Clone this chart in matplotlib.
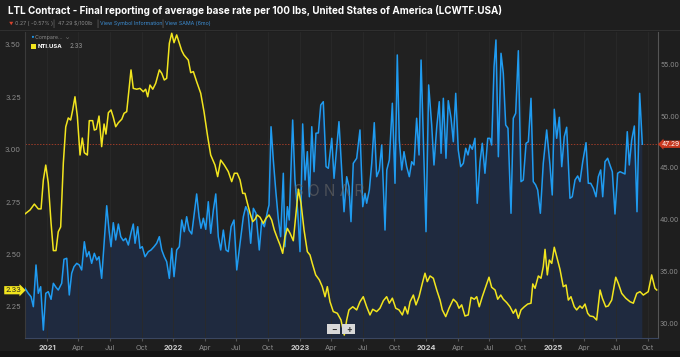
import matplotlib
matplotlib.use('Agg')
import matplotlib.pyplot as plt
import matplotlib.patches as patches
import numpy as np
import pandas as pd

plt.rcParams['font.family'] = ['Inter', 'DejaVu Sans']

# ---- data (decimal years) ----
nti_t = [2020.826, 2020.866, 2020.900, 2020.931, 2020.953, 2020.971, 2020.990, 2021.010, 2021.032, 2021.050,
         2021.071, 2021.089, 2021.108, 2021.129, 2021.148, 2021.168, 2021.187, 2021.203, 2021.221, 2021.240,
         2021.261, 2021.279, 2021.295, 2021.319, 2021.334, 2021.361, 2021.374, 2021.390, 2021.411, 2021.432,
         2021.451, 2021.466, 2021.485, 2021.506, 2021.524, 2021.543, 2021.564, 2021.591, 2021.609, 2021.630,
         2021.648, 2021.664, 2021.682, 2021.709, 2021.735, 2021.761, 2021.780, 2021.796, 2021.814, 2021.836,
         2021.859, 2021.888, 2021.907, 2021.927, 2021.946, 2021.967, 2021.986, 2022.004, 2022.025, 2022.046,
         2022.065, 2022.083, 2022.117, 2022.136, 2022.157, 2022.183, 2022.215, 2022.241, 2022.270, 2022.294,
         2022.328, 2022.349, 2022.373, 2022.402, 2022.433, 2022.460, 2022.481, 2022.504, 2022.526, 2022.547,
         2022.565, 2022.583, 2022.605, 2022.626, 2022.644, 2022.662, 2022.684, 2022.710, 2022.731, 2022.755,
         2022.776, 2022.797, 2022.821, 2022.842, 2022.863, 2022.881, 2022.900, 2022.921, 2022.947, 2022.966,
         2022.987, 2023.008, 2023.032, 2023.058, 2023.079, 2023.097, 2023.124, 2023.153, 2023.176, 2023.198,
         2023.216, 2023.237, 2023.263, 2023.295, 2023.324, 2023.350, 2023.369, 2023.387, 2023.417, 2023.448,
         2023.474, 2023.500, 2023.527, 2023.553, 2023.575, 2023.606, 2023.632, 2023.659, 2023.685, 2023.706,
         2023.730, 2023.757, 2023.783, 2023.809, 2023.830, 2023.851, 2023.870, 2023.896, 2023.917, 2023.941,
         2023.967, 2023.988, 2024.006, 2024.028, 2024.054, 2024.081, 2024.107, 2024.125, 2024.152, 2024.178,
         2024.212, 2024.239, 2024.257, 2024.278, 2024.304, 2024.330, 2024.352, 2024.378, 2024.397, 2024.417,
         2024.441, 2024.468, 2024.494, 2024.515, 2024.542, 2024.563, 2024.587, 2024.607, 2024.634, 2024.660,
         2024.686, 2024.705, 2024.726, 2024.747, 2024.773, 2024.800, 2024.826, 2024.840, 2024.858, 2024.884,
         2024.905, 2024.923, 2024.937, 2024.955, 2024.971, 2024.990, 2025.010, 2025.029, 2025.055, 2025.081,
         2025.103, 2025.121, 2025.142, 2025.168, 2025.187, 2025.213, 2025.231, 2025.253, 2025.274, 2025.292,
         2025.319, 2025.345, 2025.372, 2025.390, 2025.417, 2025.437, 2025.464, 2025.496, 2025.516, 2025.543,
         2025.575, 2025.609, 2025.635, 2025.662, 2025.688, 2025.714, 2025.753, 2025.780, 2025.806, 2025.820]
nti_v = [2.694, 2.713, 2.741, 2.718, 2.718, 2.856, 2.927, 2.842, 2.651, 2.519,
         2.519, 2.609, 2.632, 2.937, 3.109, 3.152, 3.142, 3.190, 3.253, 3.158,
         2.975, 3.056, 2.986, 2.975, 3.139, 3.139, 3.094, 3.098, 3.161, 3.015,
         3.123, 3.075, 3.177, 3.190, 3.155, 3.110, 3.129, 3.146, 3.174, 3.182,
         3.285, 3.381, 3.293, 3.289, 3.293, 3.277, 3.289, 3.253, 3.309, 3.289,
         3.317, 3.381, 3.365, 3.333, 3.341, 3.508, 3.556, 3.511, 3.548, 3.508,
         3.473, 3.452, 3.428, 3.368, 3.373, 3.325, 3.270, 3.182, 3.063, 2.975,
         2.927, 2.872, 2.951, 2.927, 2.896, 2.848, 2.888, 2.888, 2.856, 2.792,
         2.792, 2.748, 2.697, 2.657, 2.668, 2.689, 2.678, 2.649, 2.673, 2.689,
         2.665, 2.617, 2.578, 2.546, 2.506, 2.585, 2.625, 2.602, 2.566, 2.681,
         2.812, 2.745, 2.617, 2.514, 2.498, 2.458, 2.403, 2.379, 2.347, 2.299,
         2.347, 2.275, 2.228, 2.220, 2.188, 2.116, 2.188, 2.236, 2.251, 2.236,
         2.275, 2.299, 2.251, 2.212, 2.239, 2.228, 2.244, 2.280, 2.299, 2.268,
         2.292, 2.244, 2.236, 2.212, 2.251, 2.217, 2.275, 2.307, 2.260, 2.299,
         2.363, 2.411, 2.371, 2.398, 2.387, 2.331, 2.283, 2.236, 2.204, 2.244,
         2.287, 2.271, 2.244, 2.260, 2.207, 2.212, 2.296, 2.287, 2.299, 2.251,
         2.299, 2.347, 2.392, 2.344, 2.331, 2.287, 2.307, 2.287, 2.271, 2.251,
         2.220, 2.239, 2.196, 2.236, 2.251, 2.264, 2.268, 2.360, 2.339, 2.398,
         2.387, 2.442, 2.525, 2.403, 2.474, 2.458, 2.535, 2.490, 2.430, 2.347,
         2.355, 2.283, 2.299, 2.251, 2.236, 2.255, 2.244, 2.264, 2.220, 2.207,
         2.204, 2.188, 2.331, 2.292, 2.251, 2.255, 2.283, 2.392, 2.363, 2.315,
         2.292, 2.275, 2.268, 2.315, 2.323, 2.307, 2.323, 2.403, 2.339, 2.331]

lcwtf_t = [2020.826, 2020.852, 2020.874, 2020.892, 2020.913, 2020.931, 2020.950, 2020.971, 2020.990, 2021.010,
           2021.032, 2021.050, 2021.071, 2021.089, 2021.116, 2021.134, 2021.156, 2021.176, 2021.195, 2021.213,
           2021.235, 2021.255, 2021.274, 2021.295, 2021.314, 2021.332, 2021.353, 2021.374, 2021.393, 2021.411,
           2021.432, 2021.451, 2021.472, 2021.490, 2021.506, 2021.524, 2021.543, 2021.564, 2021.583, 2021.603,
           2021.622, 2021.643, 2021.664, 2021.682, 2021.696, 2021.717, 2021.735, 2021.753, 2021.775, 2021.801,
           2021.822, 2021.846, 2021.867, 2021.888, 2021.907, 2021.927, 2021.946, 2021.967, 2021.986, 2022.004,
           2022.025, 2022.046, 2022.065, 2022.085, 2022.104, 2022.123, 2022.144, 2022.164, 2022.183, 2022.202,
           2022.217, 2022.236, 2022.255, 2022.275, 2022.294, 2022.315, 2022.334, 2022.354, 2022.373, 2022.394,
           2022.415, 2022.433, 2022.455, 2022.478, 2022.500, 2022.526, 2022.552, 2022.571, 2022.589, 2022.610,
           2022.631, 2022.652, 2022.678, 2022.697, 2022.718, 2022.745, 2022.755, 2022.771, 2022.789, 2022.808,
           2022.828, 2022.847, 2022.868, 2022.881, 2022.900, 2022.915, 2022.942, 2022.960, 2022.982, 2023.000,
           2023.021, 2023.040, 2023.058, 2023.074, 2023.093, 2023.111, 2023.126, 2023.145, 2023.164, 2023.184,
           2023.206, 2023.224, 2023.251, 2023.269, 2023.290, 2023.308, 2023.324, 2023.348, 2023.369, 2023.387,
           2023.403, 2023.421, 2023.448, 2023.474, 2023.496, 2023.514, 2023.527, 2023.548, 2023.567, 2023.587,
           2023.606, 2023.627, 2023.646, 2023.672, 2023.686, 2023.706, 2023.730, 2023.751, 2023.769, 2023.785,
           2023.804, 2023.822, 2023.843, 2023.864, 2023.883, 2023.901, 2023.922, 2023.941, 2023.957, 2023.975,
           2023.996, 2024.017, 2024.041, 2024.059, 2024.081, 2024.101, 2024.115, 2024.133, 2024.154, 2024.172,
           2024.194, 2024.212, 2024.231, 2024.251, 2024.270, 2024.291, 2024.310, 2024.328, 2024.344, 2024.362,
           2024.383, 2024.401, 2024.423, 2024.441, 2024.462, 2024.484, 2024.502, 2024.515, 2024.534, 2024.549,
           2024.568, 2024.589, 2024.607, 2024.626, 2024.644, 2024.668, 2024.686, 2024.705, 2024.726, 2024.747,
           2024.765, 2024.787, 2024.805, 2024.826, 2024.844, 2024.863, 2024.879, 2024.900, 2024.923, 2024.950,
           2024.976, 2024.994, 2025.010, 2025.029, 2025.050, 2025.069, 2025.089, 2025.108, 2025.134, 2025.152,
           2025.174, 2025.195, 2025.213, 2025.235, 2025.261, 2025.279, 2025.298, 2025.319, 2025.340, 2025.358,
           2025.377, 2025.393, 2025.411, 2025.432, 2025.450, 2025.469, 2025.490, 2025.511, 2025.530, 2025.556,
           2025.569, 2025.587, 2025.603, 2025.622, 2025.643, 2025.664, 2025.685, 2025.706]
lcwtf_v = [33.36, 32.87, 32.54, 31.58, 35.61, 32.87, 33.51, 29.32, 32.87, 33.03,
           32.29, 33.84, 33.45, 33.19, 33.84, 36.16, 36.26, 32.71, 34.81, 35.44,
           35.77, 35.61, 35.13, 37.86, 36.41, 36.90, 35.77, 36.74, 36.09, 36.41,
           34.32, 37.71, 41.34, 38.99, 37.38, 39.70, 38.03, 39.57, 38.35, 37.96,
           38.19, 37.54, 38.73, 39.57, 37.71, 39.31, 37.22, 37.38, 36.41, 36.90,
           37.06, 37.38, 37.71, 38.35, 37.06, 36.41, 35.93, 34.32, 37.22, 34.48,
           37.06, 37.38, 39.96, 38.83, 40.28, 38.99, 38.61, 40.61, 42.48, 40.28,
           39.16, 40.13, 39.06, 41.73, 38.67, 40.93, 42.48, 38.35, 37.06, 38.99,
           37.06, 36.90, 39.31, 39.96, 35.13, 37.71, 40.28, 41.25, 40.76, 37.71,
           41.09, 40.61, 37.06, 39.80, 39.31, 40.93, 41.41, 48.98, 45.76, 42.86,
           40.13, 38.35, 44.48, 37.38, 41.25, 39.96, 49.63, 43.83, 40.76, 36.90,
           49.25, 43.83, 46.57, 42.21, 48.98, 44.63, 48.35, 48.38, 51.08, 51.40,
           45.12, 44.96, 47.86, 43.99, 46.90, 49.47, 45.93, 40.76, 44.15, 43.18,
           39.80, 45.44, 45.93, 48.67, 41.25, 42.54, 41.58, 42.86, 45.44, 49.37,
           44.15, 44.80, 47.21, 38.99, 44.80, 45.76, 51.25, 43.51, 55.92, 47.70,
           44.80, 46.57, 45.12, 44.15, 45.60, 45.28, 49.80, 46.25, 55.43, 47.70,
           38.83, 53.02, 49.15, 45.28, 48.98, 51.40, 46.41, 51.73, 45.93, 51.50,
           49.80, 47.53, 52.21, 46.73, 45.12, 45.44, 46.90, 46.25, 47.21, 46.80,
           47.86, 41.58, 45.60, 47.38, 44.48, 47.86, 47.86, 47.21, 54.79, 57.37,
           46.08, 56.08, 54.15, 49.15, 48.83, 40.61, 49.80, 50.28, 56.33, 43.67,
           43.83, 47.38, 47.53, 51.73, 43.67, 43.35, 42.86, 40.61, 45.44, 48.67,
           45.28, 42.38, 50.67, 47.86, 49.89, 45.12, 48.02, 48.93, 42.06, 42.21,
           43.83, 44.22, 43.67, 45.60, 47.44, 43.51, 43.51, 43.03, 42.21, 44.15,
           44.80, 42.21, 45.60, 45.93, 45.28, 44.63, 40.54, 44.48, 44.63, 44.48,
           44.41, 48.50, 45.28, 47.70, 49.05, 40.76, 52.21, 47.29]

left_ticks = [2.25, 2.50, 2.75, 3.00, 3.25, 3.50]
right_ticks = [30, 35, 40, 45, 50, 55]
nti_last = 2.33
lcwtf_last = 47.29


def to_dates(t):
    t = np.asarray(t, dtype=float)
    return pd.Timestamp('2021-01-01') + pd.to_timedelta((t - 2021) * 365.25, unit='D')


nti_d = to_dates(nti_t)
lcwtf_d = to_dates(lcwtf_t)

BG = '#1e1e1e'
BLUE = '#1f9bf0'
YELLOW = '#f2e51e'
FILL = '#1f2a3f'

fig = plt.figure(figsize=(6.8, 3.57), dpi=100, facecolor=BG)
W, H = 680, 357
ax = fig.add_axes([25 / W, 1 - 338 / H, 633 / W, 306 / H])  # blue, right scale
ax.set_facecolor('#212121')
ax2 = ax.twinx()  # yellow, left scale

# right axis (LCWTF)
ax.fill_between(lcwtf_d, lcwtf_v, 0, color=FILL, lw=0, zorder=1)
ax.plot(lcwtf_d, lcwtf_v, color=BLUE, lw=1.1, zorder=3)
ax.axhline(lcwtf_last, color='#9a3b28', lw=0.7, ls=(0, (1.5, 1.5)), zorder=2)
ax.set_ylim(28.55, 58.14)
ax.yaxis.tick_right()
ax.set_yticks(right_ticks)
ax.set_yticklabels([f'{v:.2f}' for v in right_ticks])

# left axis (NTI)
ax2.plot(nti_d, nti_v, color=YELLOW, lw=1.1, zorder=4)
ax2.set_ylim(2.102, 3.562)
ax2.yaxis.tick_left()
ax2.set_yticks(left_ticks)
ax2.set_yticklabels([f'{v:.2f}' for v in left_ticks])

ax.set_xlim(to_dates([2020.826, 2025.830]))
qticks = pd.date_range('2021-01-01', '2025-10-01', freq='QS')
ax.set_xticks(qticks)
ax.set_xticklabels([str(d.year) if d.month == 1 else d.strftime('%b') for d in qticks])
for lab, d in zip(ax.get_xticklabels(), qticks):
    if d.month == 1:
        lab.set_color('#d0d0d0')
        lab.set_fontweight('bold')
    else:
        lab.set_color('#8a8a8a')

ax.tick_params(axis='x', labelsize=5.3, length=2, color='#555555', pad=3)
ax.tick_params(axis='y', labelsize=5.0, labelcolor='#8a8a8a', length=0, pad=1.5)
ax2.tick_params(axis='y', labelsize=5.3, labelcolor='#8a8a8a', length=0, pad=3)

ax.grid(axis='x', color='#2a2a2a', lw=0.6)
for a in (ax, ax2):
    for s in a.spines.values():
        s.set_visible(False)
ax.spines['right'].set_visible(True)
ax.spines['right'].set_color('#555555')
ax.spines['right'].set_linewidth(0.8)
ax.spines['left'].set_visible(True)
ax.spines['left'].set_color('#3a3a3a')
ax.spines['bottom'].set_visible(True)
ax.spines['bottom'].set_color('#3a4660')
ax.spines['bottom'].set_linewidth(0.8)

# last-value tags
ax.text(1.006, lcwtf_last, f'{lcwtf_last:.2f}', transform=ax.get_yaxis_transform(),
        ha='left', va='center', fontsize=4.8, color='white', zorder=10, clip_on=False,
        bbox=dict(boxstyle='larrow,pad=0.1', fc='#c9381f', ec='none'))
ax2.text(-0.006, nti_last, f'{nti_last:.2f}', transform=ax2.get_yaxis_transform(),
         ha='right', va='center', fontsize=5.3, color='#222222', zorder=10, clip_on=False,
         bbox=dict(boxstyle='rarrow,pad=0.15', fc=YELLOW, ec='none'))

# watermark and zoom buttons
ax.text(0.48, 0.48, 'S O N Λ R', transform=ax.transAxes, ha='center', va='center',
        fontsize=11, color='#6a6a6a', alpha=0.6, zorder=5)
for lab, xpx in [('−', 334), ('+', 349)]:
    fig.patches.append(patches.Rectangle(((xpx - 7) / W, 1 - 334 / H), 13 / W, 10 / H,
                                         transform=fig.transFigure, fc='#d8d8d8', ec='none', zorder=6))
    fig.text(xpx / W, 1 - 329 / H, lab, ha='center', va='center', fontsize=6,
             color='#333333', fontweight='bold', zorder=7)

# legend
fig.text(30 / W, 1 - 37 / H, '•', color=BLUE, fontsize=5, va='center')
fig.text(35 / W, 1 - 37 / H, 'Compare...  ⌄', color='#8a8a8a', fontsize=3.8, va='center')
fig.patches.append(patches.Rectangle((31 / W, 1 - 48.5 / H), 4.5 / W, 4.5 / H,
                                     transform=fig.transFigure, fc=YELLOW, ec='none'))
fig.text(37.5 / W, 1 - 46 / H, 'NTI.USA', color='white', fontsize=4.3, fontweight='bold', va='center')
fig.text(70 / W, 1 - 46 / H, f'{nti_last:.2f}', color='#9a9a9a', fontsize=4.5, va='center')

# header
fig.text(8 / W, 1 - 11 / H,
         'LTL Contract - Final reporting of average base rate per 100 lbs, United States of America (LCWTF.USA)',
         color='white', fontsize=7.1, fontweight='bold', va='center')
sub_y = 1 - 23.5 / H
fig.text(9 / W, sub_y, '▼', color='#d9432c', fontsize=3.2, va='center')
fig.text(15 / W, sub_y, '0.27 ( -0.57% )', color='#8a8a8a', fontsize=3.8, va='center')
fig.text(52 / W, sub_y, '|', color='#777777', fontsize=4.5, va='center')
fig.text(58 / W, sub_y, '47.29 $/100lb', color='#8a8a8a', fontsize=3.8, va='center')
fig.text(96 / W, sub_y, '|', color='#777777', fontsize=4.5, va='center')
fig.text(100 / W, sub_y, 'View Symbol Information', color='#3d8fd6', fontsize=3.8, va='center')
fig.text(161 / W, sub_y, '|', color='#777777', fontsize=4.5, va='center')
fig.text(165 / W, sub_y, 'View SAMA (6mo)', color='#3d8fd6', fontsize=3.8, va='center')
fig.lines.append(plt.Line2D([0, 1], [1 - 30 / H, 1 - 30 / H], transform=fig.transFigure,
                            color='#333333', lw=0.6))
fig.patches.append(patches.Rectangle((0, 0), 1, 6 / H, transform=fig.transFigure,
                                     fc='#141414', ec='none', zorder=0))

fig.savefig('out.png', dpi=100, facecolor=BG)
